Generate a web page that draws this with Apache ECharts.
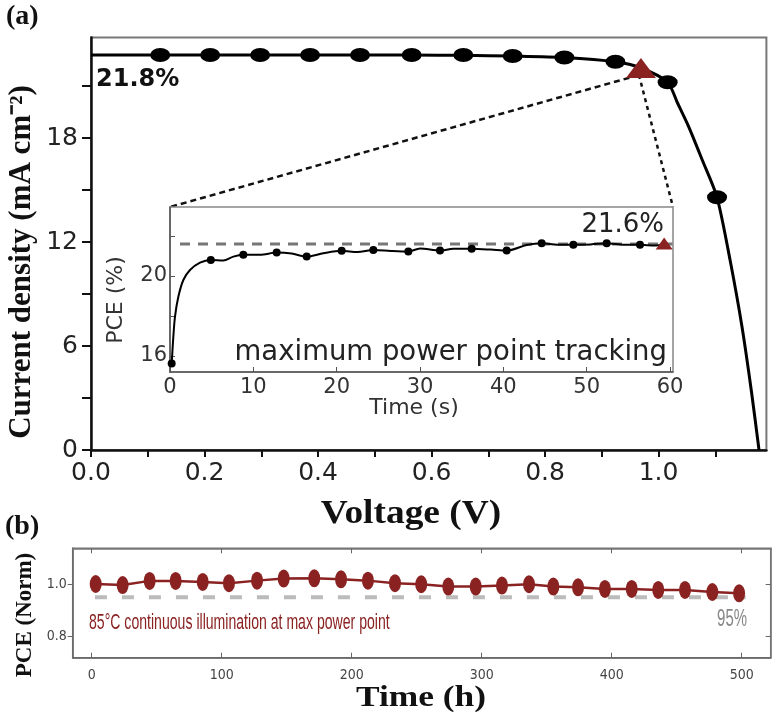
<!DOCTYPE html>
<html>
<head>
<meta charset="utf-8">
<script src="https://cdn.jsdelivr.net/npm/echarts@6/dist/echarts.min.js"></script>
<style>
html,body{margin:0;padding:0;background:#fff;}
#c{width:774px;height:712px;}
</style>
</head>
<body>
<div id="c"></div>
<script>
// ---- Panel (a): J-V curve ----
const curveV = [0, 0.122, 0.21, 0.298, 0.386, 0.474, 0.565, 0.656, 0.743, 0.834, 0.924, 0.969, 1.016, 1.033, 1.053, 1.077, 1.103, 1.126, 1.147, 1.164, 1.177];
const curveJ = [22.79, 22.79, 22.79, 22.79, 22.79, 22.79, 22.79, 22.77, 22.73, 22.65, 22.4, 22.04, 21.22, 20.05, 18.66, 16.73, 14.58, 10.96, 7.11, 3.29, 0];
const markerV = [0.122, 0.21, 0.298, 0.386, 0.474, 0.565, 0.656, 0.743, 0.834, 0.924, 1.016, 1.103];
const markerJ = [22.79, 22.79, 22.79, 22.79, 22.79, 22.79, 22.79, 22.73, 22.65, 22.4, 21.22, 14.58];
const mppV = [0.969];
const mppJ = [22.04];
const xTicksA = [0, 0.1, 0.2, 0.3, 0.4, 0.5, 0.6, 0.7, 0.8, 0.9, 1.0, 1.1];
const xLabelsA = [0, 0.2, 0.4, 0.6, 0.8, 1.0];
const yTicksA = [0, 3, 6, 9, 12, 15, 18, 21];
const yLabelsA = [0, 6, 12, 18];

// ---- Inset: maximum power point tracking ----
const insetT = [0.2, 0.4, 0.6, 1.0, 1.6, 2.4, 3.6, 4.9, 6.4, 7.6, 8.8, 10.8, 12.8, 14.6, 16.4, 18.4, 20.6, 22.5, 24.4, 26.5, 28.6, 30.0, 32.4, 34.0, 36.2, 38.5, 40.4, 42.8, 44.6, 46.5, 48.4, 50.5, 52.4, 54.5, 56.4, 58.2, 59.3];
const insetPCE = [15.62, 16.96, 17.97, 18.96, 19.8, 20.3, 20.67, 20.8, 20.77, 20.97, 21.06, 21.06, 21.17, 21.12, 20.97, 21.14, 21.26, 21.2, 21.3, 21.25, 21.22, 21.38, 21.27, 21.36, 21.36, 21.32, 21.27, 21.55, 21.64, 21.56, 21.56, 21.58, 21.64, 21.56, 21.56, 21.52, 21.62];
const insetMarkT = [0.2, 4.9, 8.8, 12.8, 16.4, 20.6, 24.4, 28.6, 32.4, 36.2, 40.4, 44.6, 48.4, 52.4, 56.4];
const insetMarkPCE = [15.62, 20.8, 21.06, 21.17, 20.97, 21.26, 21.3, 21.22, 21.27, 21.36, 21.27, 21.64, 21.56, 21.64, 21.56];
const insetEndT = [59.3];
const insetEndPCE = [21.62];
const insetRefT = [1.2, 60.3];
const insetRefPCE = 21.6;
const xTicksInset = [0, 10, 20, 30, 40, 50, 60];
const yTicksInset = [16, 18, 20, 22];
const yLabelsInset = [16, 20];

// ---- Panel (b): stability ----
const stabT = [3.1, 23.8, 44.6, 64.6, 85.4, 105.6, 127.2, 147.7, 171.2, 191.8, 212.5, 233.3, 253.5, 274.3, 295.4, 315.6, 336.4, 355.1, 374.1, 394.8, 415.4, 435.8, 456.4, 477.4, 498.0];
const stabPCE = [1.001, 0.997, 1.013, 1.013, 1.009, 1.004, 1.014, 1.022, 1.023, 1.019, 1.014, 1.004, 1.0, 0.991, 0.991, 0.995, 1.0, 0.991, 0.988, 0.982, 0.982, 0.978, 0.978, 0.970, 0.965];
const threshT = [2.5, 503];
const threshPCE = 0.95;
const xTicksB = [0, 100, 200, 300, 400, 500];
const yTicksB = [0.8, 1.0];

const zip = (a, b) => a.map((v, i) => [v, b[i]]);
const SANS = '"DejaVu Sans", sans-serif';
const ARIAL = '"Liberation Sans", Arial, sans-serif';
const COND = '"DejaVu Sans Condensed", "Liberation Sans", sans-serif';
const SERIF = '"Liberation Serif", "Times New Roman", serif';
const RED = '#8b2222';

const chart = echarts.init(document.getElementById('c'), null, {renderer: 'canvas'});

const option = {
  backgroundColor: '#fff',
  animation: false,
  grid: [
    {left: 91, top: 37.5, width: 675.4, height: 412.5, show: true, borderColor: '#777', borderWidth: 2, backgroundColor: 'transparent'},
    {left: 170, top: 207, width: 503, height: 165, show: true, borderColor: '#888', borderWidth: 1.5, backgroundColor: '#fff', z: 3},
    {left: 72.7, top: 548.3, width: 698, height: 109.4, show: true, borderColor: '#777', borderWidth: 1.5, backgroundColor: 'transparent'}
  ],
  xAxis: [
    {gridIndex: 0, type: 'value', min: 0, max: 1.19, splitLine: {show: false},
     axisLine: {onZero: false, lineStyle: {color: '#111', width: 2.5}},
     axisTick: {customValues: xTicksA, length: 7, inside: false, lineStyle: {color: '#111', width: 2}},
     axisLabel: {customValues: xLabelsA, formatter: v => v.toFixed(1), fontFamily: SANS, fontSize: 25, color: '#222', margin: 11}},
    {gridIndex: 1, type: 'value', min: 0, max: 60.36, splitLine: {show: false}, z: 4,
     axisLine: {onZero: false, lineStyle: {color: '#555', width: 1.5}},
     axisTick: {customValues: xTicksInset, inside: true, length: 5, lineStyle: {color: '#555'}},
     axisLabel: {customValues: xTicksInset, fontFamily: SANS, fontSize: 21, color: '#333', margin: 5}},
    {gridIndex: 2, type: 'value', min: -14.6, max: 522.3, splitLine: {show: false},
     axisLine: {onZero: false, lineStyle: {color: '#666', width: 1.5}},
     axisTick: {customValues: xTicksB, inside: true, length: 5, lineStyle: {color: '#666'}},
     axisLabel: {customValues: xTicksB, fontFamily: COND, fontSize: 14, color: '#444', margin: 11}},
    {gridIndex: 2, type: 'value', position: 'top', min: -14.6, max: 522.3, splitLine: {show: false},
     axisLine: {onZero: false, lineStyle: {color: '#777', width: 1.5}},
     axisTick: {customValues: xTicksB, inside: true, length: 5, lineStyle: {color: '#666'}},
     axisLabel: {show: false}}
  ],
  yAxis: [
    {gridIndex: 0, type: 'value', min: 0, max: 23.8, splitLine: {show: false},
     axisLine: {onZero: false, lineStyle: {color: '#111', width: 2.5}},
     axisTick: {customValues: yTicksA, length: 9, lineStyle: {color: '#111', width: 2}},
     axisLabel: {customValues: yLabelsA, fontFamily: SANS, fontSize: 25, color: '#222', margin: 13}},
    {gridIndex: 1, type: 'value', min: 15.2, max: 23.45, splitLine: {show: false}, z: 4,
     axisLine: {onZero: false, lineStyle: {color: '#555', width: 1.5}},
     axisTick: {customValues: yTicksInset, inside: true, length: 5, lineStyle: {color: '#555'}},
     axisLabel: {customValues: yLabelsInset, fontFamily: SANS, fontSize: 21, color: '#333', margin: 3}},
    {gridIndex: 2, type: 'value', min: 0.716, max: 1.139, splitLine: {show: false},
     axisLine: {onZero: false, lineStyle: {color: '#666', width: 1.5}},
     axisTick: {customValues: yTicksB, length: 5, lineStyle: {color: '#666'}},
     axisLabel: {customValues: yTicksB, formatter: v => v.toFixed(1), fontFamily: COND, fontSize: 14, color: '#444', margin: 6}},
    {gridIndex: 2, type: 'value', position: 'right', min: 0.716, max: 1.139, splitLine: {show: false},
     axisLine: {onZero: false, lineStyle: {color: '#777', width: 1.5}},
     axisTick: {customValues: yTicksB, inside: true, length: 5, lineStyle: {color: '#666'}},
     axisLabel: {show: false}}
  ],
  series: [
    {type: 'line', xAxisIndex: 0, yAxisIndex: 0, data: zip(curveV, curveJ), smooth: 0.25, showSymbol: false,
     lineStyle: {color: '#000', width: 3}, z: 2},
    {type: 'scatter', xAxisIndex: 0, yAxisIndex: 0, data: zip(markerV, markerJ), symbol: 'circle', symbolSize: [20, 14],
     itemStyle: {color: '#000', opacity: 1}, z: 3},
    {type: 'scatter', xAxisIndex: 0, yAxisIndex: 0, data: zip(mppV, mppJ), symbol: 'triangle', symbolSize: [30, 20],
     itemStyle: {color: RED, opacity: 1}, z: 4},
    {type: 'line', xAxisIndex: 1, yAxisIndex: 1, data: insetRefT.map(t => [t, insetRefPCE]), showSymbol: false,
     lineStyle: {color: '#777', width: 3, type: [10, 8]}, z: 5},
    {type: 'line', xAxisIndex: 1, yAxisIndex: 1, data: zip(insetT, insetPCE), smooth: 0.3, showSymbol: false,
     lineStyle: {color: '#000', width: 2}, z: 6},
    {type: 'scatter', xAxisIndex: 1, yAxisIndex: 1, data: zip(insetMarkT, insetMarkPCE), symbol: 'circle', symbolSize: 8,
     itemStyle: {color: '#000', opacity: 1}, z: 7},
    {type: 'scatter', xAxisIndex: 1, yAxisIndex: 1, data: zip(insetEndT, insetEndPCE), symbol: 'triangle', symbolSize: [17, 12],
     itemStyle: {color: RED, opacity: 1}, z: 8},
    {type: 'line', xAxisIndex: 2, yAxisIndex: 2, data: threshT.map(t => [t, threshPCE]), showSymbol: false,
     lineStyle: {color: '#bbb', width: 4, type: [12, 15]}, z: 2},
    {type: 'line', xAxisIndex: 2, yAxisIndex: 2, data: zip(stabT, stabPCE), symbol: 'circle', symbolSize: [12, 18], showSymbol: true,
     lineStyle: {color: RED, width: 2.5}, itemStyle: {color: RED, opacity: 1}, z: 3}
  ]
};
chart.setOption(option);

// connector lines from MPP triangle to inset corners (via library coordinate conversion)
const tri = chart.convertToPixel({gridIndex: 0}, [mppV[0], mppJ[0]]);
const cornerL = chart.convertToPixel({gridIndex: 1}, [0, 23.45]);
const cornerR = chart.convertToPixel({gridIndex: 1}, [60.36, 23.45]);
const start = [tri[0] - 2, tri[1] + 7];

const txt = (text, x, y, font, opts) => {
  opts = opts || {};
  const el = {
    type: 'text', x: x, y: y, z: 50,
    style: Object.assign({text: text, font: font, fill: '#111', textAlign: 'left', textVerticalAlign: 'middle'}, opts.style || {})
  };
  if (opts.rotation) el.rotation = opts.rotation;
  if (opts.scaleX) el.scaleX = opts.scaleX;
  return el;
};

chart.setOption({
  graphic: [
    {type: 'polyline', z: 1, shape: {points: [start, cornerL]}, style: {stroke: '#111', lineWidth: 2.5, lineDash: [6, 4], fill: null}},
    {type: 'polyline', z: 1, shape: {points: [start, cornerR]}, style: {stroke: '#111', lineWidth: 2.5, lineDash: [4, 4], fill: null}},
    txt('(a)', 6, 17, 'bold 28px ' + SERIF),
    txt('(b)', 5, 527, 'bold 28px ' + SERIF),
    txt('21.8%', 96, 80, 'bold 24px ' + SANS),
    txt('21.6%', 664, 225, '26px ' + SANS, {style: {textAlign: 'right', fill: '#222'}}),
    txt('maximum power point tracking', 667, 353, '27.5px ' + SANS, {style: {textAlign: 'right', fill: '#222'}}),
    txt('Time (s)', 414, 408, '22px ' + SANS, {style: {textAlign: 'center', fill: '#333'}}),
    txt('PCE (%)', 116, 300, '22px ' + SANS, {style: {textAlign: 'center', fill: '#333'}, rotation: Math.PI / 2}),
    txt('Current density (mA cm\u207B\u00B2)', 22, 262, 'bold 31px ' + SERIF, {style: {textAlign: 'center'}, rotation: Math.PI / 2}),
    txt('Voltage (V)', 411, 514, 'bold 34px ' + SERIF, {style: {textAlign: 'center'}, scaleX: 1.1}),
    txt('85\u00B0C continuous illumination at max power point', 89, 623, '22px ' + ARIAL, {style: {fill: RED}, scaleX: 0.64}),
    txt('95%', 747, 620, '23px ' + ARIAL, {style: {textAlign: 'right', fill: '#888'}, scaleX: 0.65}),
    txt('PCE (Norm)', 25, 615, 'bold 23px ' + SERIF, {style: {textAlign: 'center'}, rotation: Math.PI / 2}),
    txt('Time (h)', 421, 698, 'bold 30px ' + SERIF, {style: {textAlign: 'center'}, scaleX: 1.18})
  ]
});
</script>
</body>
</html>
